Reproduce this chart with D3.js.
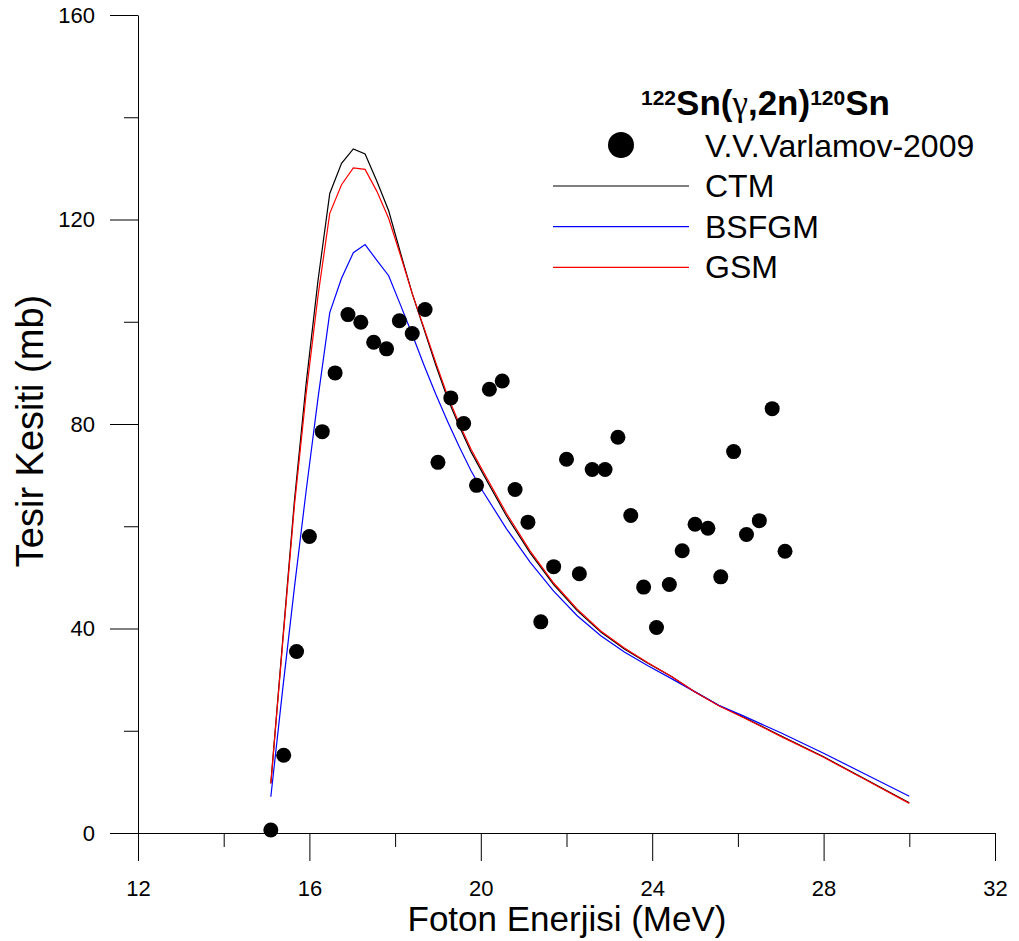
<!DOCTYPE html>
<html>
<head>
<meta charset="utf-8">
<script src="https://cdn.jsdelivr.net/npm/d3@7"></script>
<style>
  body { margin: 0; background: #fff; }
  svg { display: block; }
  text { font-family: "Liberation Sans", Arial, sans-serif; fill: #000; }
</style>
</head>
<body>
<svg id="chart" width="1019" height="941"></svg>
<script>
// Measured 122Sn(γ,2n)120Sn cross sections (V.V.Varlamov-2009)
const expEnergy = [15.1, 15.4, 15.7, 16.0, 16.3, 16.6, 16.9, 17.2, 17.5, 17.8,
                   18.1, 18.4, 18.7, 19.0, 19.3, 19.6, 19.9, 20.2, 20.5, 20.8,
                   21.1, 21.4, 21.7, 22.0, 22.3, 22.6, 22.9, 23.2, 23.5, 23.8,
                   24.1, 24.4, 24.7, 25.0, 25.3, 25.6, 25.9, 26.2, 26.5, 26.8, 27.1];
const expSigma = [0.6, 15.2, 35.5, 58.0, 78.5, 90.0, 101.4, 99.9, 96.0, 94.7,
                  100.2, 97.7, 102.4, 72.5, 85.1, 80.1, 68.0, 86.8, 88.4, 67.2,
                  60.8, 41.3, 52.1, 73.1, 50.7, 71.1, 71.1, 77.4, 62.1, 48.1,
                  40.2, 48.6, 55.2, 60.4, 59.6, 50.1, 74.6, 58.4, 61.1, 83.0, 55.1];

// Model energy grid (MeV)
const modelEnergy = [15.1, 15.375, 15.65, 15.925, 16.2, 16.475, 16.75, 17.025, 17.3, 17.575,
                     17.85, 18.125, 18.4, 18.675, 18.95, 19.225, 19.5, 19.775, 20.05, 20.6,
                     21.15, 21.7, 22.25, 22.8, 23.35, 23.9, 24.45, 25.0, 25.55, 26.1,
                     27.0, 28.0, 29.0, 30.0];
const ctmSigma = [9.7, 37.5, 65.0, 88.0, 108.0, 125.1, 131.0, 133.8, 132.8, 127.5,
                  121.7, 113.5, 105.5, 98.5, 91.5, 85.0, 79.5, 74.5, 70.3, 62.0,
                  54.8, 48.6, 43.5, 39.3, 36.0, 33.2, 30.6, 27.6, 25.0, 22.8,
                  19.0, 14.9, 10.4, 5.9];
const bsfgmSigma = [7.1, 28.0, 48.0, 67.0, 85.0, 101.8, 108.5, 113.5, 115.1, 112.0,
                    109.0, 103.3, 97.5, 91.5, 85.8, 80.5, 75.5, 70.8, 66.8, 59.5,
                    53.0, 47.3, 42.5, 38.6, 35.4, 32.7, 30.2, 27.6, 25.0, 23.0,
                    19.6, 15.6, 11.4, 7.2];
const gsmSigma = [9.7, 37.0, 64.0, 86.0, 105.0, 121.2, 126.8, 130.1, 129.8, 125.5,
                  120.2, 113.0, 105.5, 98.8, 92.0, 85.5, 80.0, 75.0, 70.8, 62.5,
                  55.2, 48.9, 43.8, 39.5, 36.2, 33.3, 30.6, 27.6, 24.9, 22.7,
                  18.9, 14.8, 10.3, 5.8];

// Axis ticks
const xMajorTicks = [12, 16, 20, 24, 28, 32];
const xMinorTicks = [14, 18, 22, 26, 30];
const yMajorTicks = [0, 40, 80, 120, 160];
const yMinorTicks = [20, 60, 100, 140];

const modelNames = ["CTM", "BSFGM", "GSM"];
const modelColors = ["#000000", "#0000ff", "#ff0000"];
const modelSeries = [ctmSigma, bsfgmSigma, gsmSigma];

const svg = d3.select("#chart");
const margin = { left: 138, right: 24, top: 15, bottom: 108 };
const W = 1019, H = 941;

const x = d3.scaleLinear().domain([12, 32]).range([margin.left, W - margin.right]);
const y = d3.scaleLinear().domain([0, 160]).range([H - margin.bottom, margin.top]);

// Axes: minor ticks first, then major ticks with labels
svg.append("g")
  .attr("transform", `translate(0,${y(0)})`)
  .call(d3.axisBottom(x).tickValues(xMinorTicks).tickSize(14).tickSizeOuter(0).tickFormat(""))
  .call(g => g.select(".domain").remove());
svg.append("g")
  .attr("transform", `translate(${x(12)},0)`)
  .call(d3.axisLeft(y).tickValues(yMinorTicks).tickSize(14).tickSizeOuter(0).tickFormat(""))
  .call(g => g.select(".domain").remove());

svg.append("g")
  .attr("transform", `translate(0,${y(0)})`)
  .call(d3.axisBottom(x).tickValues(xMajorTicks).tickSize(28).tickSizeOuter(0).tickPadding(19).tickFormat(d3.format("d")));
svg.append("g")
  .attr("transform", `translate(${x(12)},0)`)
  .call(d3.axisLeft(y).tickValues(yMajorTicks).tickSize(28).tickSizeOuter(0).tickPadding(15).tickFormat(d3.format("d")));

svg.selectAll(".tick text").attr("font-size", 22).attr("font-family", "'Liberation Sans', Arial, sans-serif");
svg.selectAll(".domain, .tick line").attr("stroke", "#000").attr("stroke-width", 1);

// Axis titles
svg.append("text")
  .attr("x", 567).attr("y", 931)
  .attr("text-anchor", "middle")
  .attr("font-size", 35)
  .text("Foton Enerjisi (MeV)");
svg.append("text")
  .attr("transform", `translate(43,431) rotate(-90)`)
  .attr("text-anchor", "middle")
  .attr("font-size", 38)
  .text("Tesir Kesiti (mb)");

// Model curves
const line = d3.line().x((d, i) => x(modelEnergy[i])).y(d => y(d));
modelSeries.forEach((series, k) => {
  svg.append("path")
    .datum(series)
    .attr("fill", "none")
    .attr("stroke", modelColors[k])
    .attr("stroke-width", 1.2)
    .attr("d", line);
});

// Experimental points
svg.append("g")
  .selectAll("circle")
  .data(expEnergy)
  .join("circle")
  .attr("cx", d => x(d))
  .attr("cy", (d, i) => y(expSigma[i]))
  .attr("r", 7.5)
  .attr("fill", "#000");

// Legend
const legend = svg.append("g");
const title = legend.append("text")
  .attr("x", 641).attr("y", 115)
  .attr("font-size", 35).attr("font-weight", "bold");
title.append("tspan").attr("font-size", 21).attr("dy", -10).text("122");
title.append("tspan").attr("dy", 10).text("Sn(");
title.append("tspan").attr("font-family", "'Liberation Serif', 'Times New Roman', serif").attr("font-weight", "normal").text("γ");
title.append("tspan").text(",2n)");
title.append("tspan").attr("font-size", 21).attr("dy", -10).text("120");
title.append("tspan").attr("dy", 10).text("Sn");

legend.append("circle").attr("cx", 621).attr("cy", 145).attr("r", 13).attr("fill", "#000");
legend.append("text").attr("x", 705).attr("y", 157).attr("font-size", 32).text("V.V.Varlamov-2009");

modelNames.forEach((name, k) => {
  const ly = 186 + k * 40.7;
  legend.append("line")
    .attr("x1", 553).attr("x2", 689)
    .attr("y1", ly).attr("y2", ly)
    .attr("stroke", modelColors[k]).attr("stroke-width", 1.2);
  legend.append("text")
    .attr("x", 705).attr("y", ly + 11)
    .attr("font-size", 32)
    .text(name);
});
</script>
</body>
</html>
